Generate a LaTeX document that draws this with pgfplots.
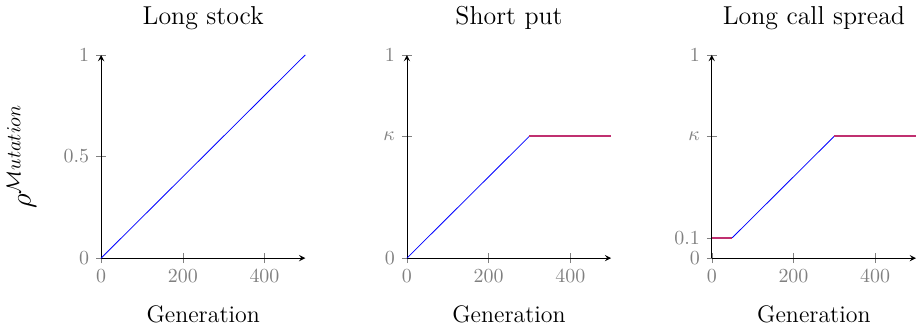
\documentclass[border=0pt]{standalone}
\usepackage{pgfplots}
\pgfplotsset{compat=1.18}
\definecolor{flatpart}{RGB}{192,48,112}

\pgfplotsset{
  payoff/.style={
    scale only axis,
    width=102.5pt, height=102pt,
    axis lines=left,
    xmin=0, xmax=500, ymin=0, ymax=1,
    xtick={0,200,400},
    tick align=center,
    major tick length=5pt,
    tick style={gray},
    tick label style={gray, font=\normalsize},
    xlabel={Generation},
    xlabel style={font=\large, yshift=-4.5pt},
    title style={font=\fontsize{13}{15}\selectfont, yshift=3pt},
    clip=false,
  },
  ramp/.style={blue, line width=0.4pt},
  flat/.style={flatpart, line width=1pt},
}

\begin{document}
\begin{tikzpicture}
% long stock: linear ramp over the whole run
\begin{axis}[payoff,
    title={Long stock},
    ytick={0,0.5,1},
    ylabel={$\rho^{\mathcal{M}utation}$},
    ylabel style={font=\Large,
      at={(axis description cs:-0.39,0.5)}, anchor=center}]
  \addplot[ramp] coordinates {(0,0) (500,1)};
\end{axis}

% short put: ramp up to kappa, then constant
\begin{axis}[payoff, at={(153.5pt,0)},
    title={Short put},
    ytick={0,0.6,1}, yticklabels={0,$\kappa$,1}]
  \addplot[ramp] coordinates {(0,0) (300,0.6)};
  \addplot[flat] coordinates {(300,0.6) (500,0.6)};
\end{axis}

% long call spread: floor at 0.1, ramp, cap at kappa
\begin{axis}[payoff, at={(306.5pt,0)},
    title={Long call spread},
    ytick={0,0.1,0.6,1}, yticklabels={0,0.1,$\kappa$,1}]
  \addplot[flat] coordinates {(0,0.1) (50,0.1)};
  \addplot[ramp] coordinates {(50,0.1) (300,0.6)};
  \addplot[flat] coordinates {(300,0.6) (500,0.6)};
\end{axis}
\end{tikzpicture}
\end{document}
